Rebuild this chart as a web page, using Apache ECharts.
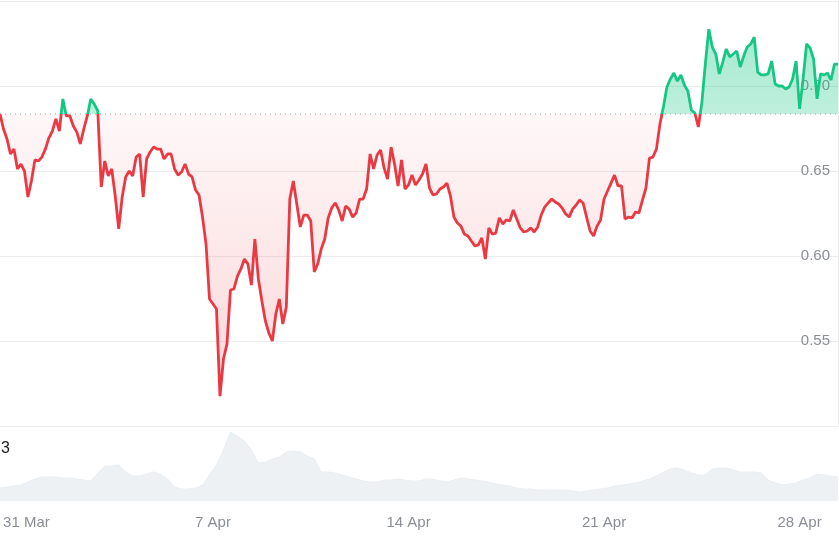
<!DOCTYPE html>
<html><head><meta charset="utf-8">
<script src="https://cdn.jsdelivr.net/npm/echarts@6/dist/echarts.min.js"></script>
<style>html,body{margin:0;padding:0;background:#fff}#c{width:839px;height:539px}</style>
</head><body><div id="c"></div>
<script>
// ---- data ----
const startTime = '2025-03-30T09:00:00Z';
const endTime = '2025-04-29T09:00:00Z';
const priceStepHours = 3;
const prices = [
0.6835,0.6747,0.6688,0.6600,0.6629,0.6512,0.6541,0.6500,0.6347,0.6441,
0.6565,0.6559,0.6582,0.6629,0.6694,0.6735,0.6806,0.6735,0.6924,0.6824,
0.6824,0.6765,0.6729,0.6659,0.6747,0.6824,0.6924,0.6894,0.6853,0.6406,
0.6559,0.6471,0.6512,0.6353,0.6159,0.6347,0.6465,0.6500,0.6471,0.6582,
0.6600,0.6347,0.6571,0.6612,0.6641,0.6629,0.6629,0.6571,0.6600,0.6600,
0.6512,0.6476,0.6494,0.6541,0.6482,0.6465,0.6388,0.6359,0.6229,0.6071,
0.5747,0.5718,0.5688,0.5176,0.5394,0.5482,0.5800,0.5806,0.5882,0.5924,
0.5982,0.5953,0.5829,0.6100,0.5865,0.5735,0.5618,0.5547,0.5500,0.5659,
0.5747,0.5600,0.5700,0.6335,0.6441,0.6306,0.6171,0.6241,0.6241,0.6206,
0.5906,0.5953,0.6041,0.6100,0.6224,0.6282,0.6312,0.6271,0.6206,0.6294,
0.6276,0.6229,0.6253,0.6335,0.6335,0.6394,0.6600,0.6512,0.6594,0.6624,
0.6518,0.6453,0.6641,0.6541,0.6412,0.6565,0.6394,0.6418,0.6476,0.6418,
0.6447,0.6482,0.6541,0.6400,0.6359,0.6365,0.6394,0.6406,0.6429,0.6353,
0.6229,0.6194,0.6176,0.6129,0.6118,0.6088,0.6059,0.6065,0.6106,0.5982,
0.6165,0.6129,0.6135,0.6224,0.6188,0.6212,0.6206,0.6271,0.6218,0.6165,
0.6141,0.6147,0.6165,0.6141,0.6171,0.6241,0.6288,0.6312,0.6335,0.6318,
0.6306,0.6282,0.6247,0.6229,0.6276,0.6300,0.6329,0.6312,0.6229,0.6147,
0.6118,0.6176,0.6212,0.6335,0.6382,0.6429,0.6476,0.6412,0.6412,0.6218,
0.6229,0.6224,0.6259,0.6253,0.6329,0.6400,0.6576,0.6582,0.6629,0.6776,
0.6876,0.6994,0.7041,0.7076,0.7029,0.7065,0.7006,0.6971,0.6859,0.6841,
0.6759,0.6900,0.7129,0.7335,0.7229,0.7188,0.7071,0.7141,0.7218,0.7171,
0.7188,0.7206,0.7112,0.7176,0.7229,0.7247,0.7288,0.7082,0.7065,0.7065,
0.7071,0.7147,0.7012,0.7000,0.7000,0.6982,0.6994,0.7041,0.7147,0.6865,
0.7041,0.7247,0.7224,0.7159,0.6924,0.7071,0.7065,0.7076,0.7035,0.7129,
0.7129
];
const volumeStepHours = 6;
const volumes = [
13,14,15,16,19,22,24,24,24,23,
23,22,21,20,28,35,35,36,29,25,
25,27,29,27,22,14,12,12,13,16,
26,36,51,69,65,60,51,38,39,42,
44,49,50,49,45,42,29,29,28,26,
24,22,20,19,19,21,21,22,21,20,
20,22,22,20,19,21,23,22,21,20,
19,17,16,15,13,12,12,11,11,11,
11,11,10,9,10,11,12,13,15,16,
17,18,20,22,25,29,32,33,31,28,
26,26,32,33,33,31,29,29,29,28,
21,18,16,17,18,21,23,27,26,25,
24
];
const tickDates = ['2025-03-31T00:00:00Z','2025-04-07T00:00:00Z','2025-04-14T00:00:00Z','2025-04-21T00:00:00Z','2025-04-28T00:00:00Z'];
const tickLabels = ['31 Mar','7 Apr','14 Apr','21 Apr','28 Apr'];
const volumeAxisLabel = '3';

// ---- build ----
const H = 3600 * 1000;
const t0 = Date.parse(startTime), t1 = Date.parse(endTime);
const baseline = prices[0];
const priceData = prices.map((v, i) => [t0 + i * priceStepHours * H, v]);
const redArea = prices.map((v, i) => [t0 + i * priceStepHours * H, Math.min(v, baseline)]);
const greenArea = prices.map((v, i) => [t0 + i * priceStepHours * H, Math.max(v, baseline)]);
const baseData = [[t0, baseline], [t1, baseline]];
const volData = volumes.map((v, i) => [t0 + i * volumeStepHours * H, v]);
const tickTimes = tickDates.map(d => Date.parse(d));

const RED = '#ea3943', GREEN = '#16c784', GREY = '#8a8e96';
const FONT = 'Liberation Sans, Arial, sans-serif';
const chart = echarts.init(document.getElementById('c'), null, {renderer: 'canvas'});
chart.setOption({
  animation: false,
  backgroundColor: '#fff',
  textStyle: {fontFamily: FONT},
  grid: [
    {left: 0, right: 1, top: 1, height: 425},
    {left: 0, right: 1, top: 426, height: 75}
  ],
  xAxis: [
    {type: 'value', gridIndex: 0, min: t0, max: t1, axisLabel: {show: false}, axisLine: {show: false}, axisTick: {show: false}, splitLine: {show: false}},
    {type: 'value', gridIndex: 1, min: t0, max: t1, axisLine: {show: false}, axisTick: {show: false}, splitLine: {show: false},
      axisLabel: {
        customValues: tickTimes,
        margin: 14, fontSize: 15, color: GREY, fontFamily: FONT,
        formatter: function (v) {
          const k = tickTimes.indexOf(v);
          if (k < 0) return '';
          return k === 0 ? '{first|' + tickLabels[k] + '}' : tickLabels[k];
        },
        rich: {first: {padding: [0, 0, 0, 18], fontSize: 15, color: GREY, fontFamily: FONT}}
      }}
  ],
  yAxis: [
    {type: 'value', gridIndex: 0, position: 'right', min: 0.5, max: 0.75, interval: 0.05,
      axisLine: {show: true, lineStyle: {color: '#ebebeb'}}, axisTick: {show: false},
      splitLine: {lineStyle: {color: '#ececec', width: 1}},
      axisLabel: {inside: true, margin: 8, fontSize: 15, color: GREY, fontFamily: FONT, showMinLabel: false, showMaxLabel: false,
        formatter: v => v.toFixed(2)}},
    {type: 'value', gridIndex: 1, min: 0, max: 75, show: false}
  ],
  visualMap: {type: 'piecewise', show: false, seriesIndex: 3, dimension: 1,
    pieces: [{gte: 0, lt: baseline, color: RED}, {gte: baseline, lte: 10, color: GREEN}]},
  graphic: [{type: 'text', left: 1, top: 441, style: {text: volumeAxisLabel, fontSize: 16, fill: '#222', fontFamily: FONT}}],
  series: [
    {type: 'line', xAxisIndex: 0, yAxisIndex: 0, data: redArea, symbol: 'none', silent: true, z: 1,
      lineStyle: {width: 0, opacity: 0},
      areaStyle: {origin: baseline, opacity: 1, color: new echarts.graphic.LinearGradient(0, 0, 0, 1, [
        {offset: 0, color: 'rgba(234,57,67,0.04)'}, {offset: 1, color: 'rgba(234,57,67,0.20)'}])}},
    {type: 'line', xAxisIndex: 0, yAxisIndex: 0, data: greenArea, symbol: 'none', silent: true, z: 1,
      lineStyle: {width: 0, opacity: 0},
      areaStyle: {origin: baseline, opacity: 1, color: new echarts.graphic.LinearGradient(0, 0, 0, 1, [
        {offset: 0, color: 'rgba(22,199,132,0.38)'}, {offset: 1, color: 'rgba(22,199,132,0.28)'}])}},
    {type: 'line', xAxisIndex: 0, yAxisIndex: 0, data: baseData, symbol: 'none', silent: true, z: 2,
      lineStyle: {type: [1, 4], color: '#9aa0a6', width: 1}},
    {type: 'line', xAxisIndex: 0, yAxisIndex: 0, data: priceData, symbol: 'none', z: 3,
      lineStyle: {width: 2.8}},
    {type: 'line', xAxisIndex: 1, yAxisIndex: 1, data: volData, symbol: 'none', silent: true,
      lineStyle: {width: 1, color: '#e9edf1'},
      areaStyle: {color: '#eef1f4', opacity: 1}}
  ]
});
</script>
</body></html>
